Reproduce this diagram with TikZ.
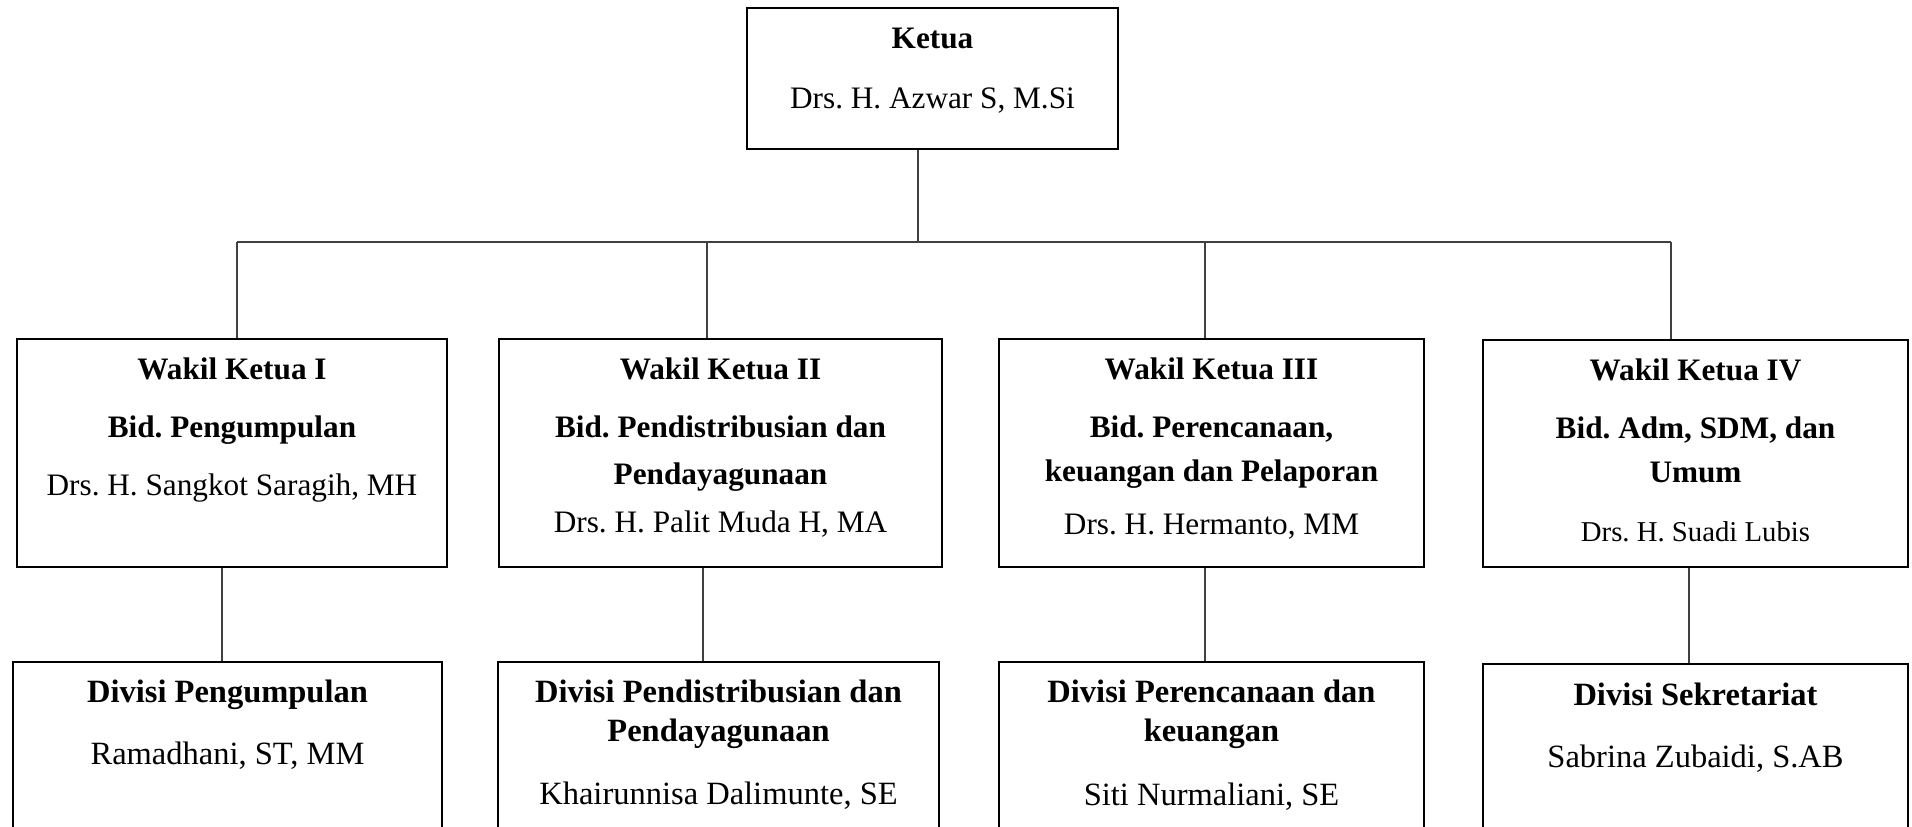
\documentclass[tikz,border=0pt]{standalone}
\usepackage{fontspec}
\setmainfont{Liberation Serif}

\tikzset{
    box/.style={draw, line width=0.7pt, inner sep=0pt},
    txt/.style={anchor=north, inner sep=0pt, align=center, font=\fontsize{12.5}{17.6}\selectfont\frenchspacing},
    divtxt/.style={anchor=north, inner sep=0pt, align=center, font=\fontsize{13}{15.6}\selectfont\frenchspacing},
    link/.style={draw=black!75, line width=0.45pt}
}

\begin{document}
\begin{tikzpicture}[x=1pt, y=1pt]
            \clip (0, 0) rectangle (764.8, -330.8);

            % Ketua
            \node [box, minimum width=148.4pt, minimum height=56.4pt] (ketua) at (373, -31.4) {};
            \node [txt] (ketuatxt) at ([yshift=-4.1pt]ketua.north) {\strut\textbf{Ketua}\\[6.4pt]Drs. H. Azwar S, M.Si};

            % Wakil Ketua
            \node [box, minimum width=172pt, minimum height=91.2pt] (w1) at (92.8, -181.2) {};
            \node [box, minimum width=177.2pt, minimum height=91.2pt] (w2) at (288.2, -181.2) {};
            \node [box, minimum width=170pt, minimum height=91.2pt] (w3) at (484.6, -181.2) {};
            \node [box, minimum width=170pt, minimum height=90.8pt] (w4) at (678.2, -181.4) {};

            \node [txt] (w1txt) at ([yshift=-4.1pt]w1.north) {\strut\textbf{Wakil Ketua I}\\[5.6pt]\textbf{Bid. Pengumpulan}\\[5.6pt]Drs. H. Sangkot Saragih, MH};
            \node [txt] (w2txt) at ([yshift=-4.1pt]w2.north) {\strut\textbf{Wakil Ketua II}\\[5.6pt]\textbf{Bid. Pendistribusian dan}\\[1.2pt]\textbf{Pendayagunaan}\\[1.4pt]Drs. H. Palit Muda H, MA};
            \node [txt] (w3txt) at ([yshift=-4.1pt]w3.north) {\strut\textbf{Wakil Ketua III}\\[5.6pt]\textbf{Bid. Perencanaan,}\\\textbf{keuangan dan Pelaporan}\\[3.6pt]Drs. H. Hermanto, MM};
            \node [txt] (w4txt) at ([yshift=-4.1pt]w4.north) {\strut\textbf{Wakil Ketua IV}\\[5.6pt]\textbf{Bid. Adm, SDM, dan}\\\textbf{Umum}\\[6pt]{\fontsize{11.5}{15}\selectfont Drs. H. Suadi Lubis}};

            % Divisi
            \node [box, minimum width=171.6pt, minimum height=80pt] (d1) at (91, -304.8) {};
            \node [box, minimum width=176.4pt, minimum height=80pt] (d2) at (287.4, -304.8) {};
            \node [box, minimum width=170pt, minimum height=80pt] (d3) at (484.6, -304.8) {};
            \node [box, minimum width=170pt, minimum height=80pt] (d4) at (678.2, -305.6) {};

            \node [divtxt] (d1txt) at ([yshift=-5.5pt]d1.north) {\strut\textbf{Divisi Pengumpulan}\\[9.2pt]Ramadhani, ST, MM};
            \node [divtxt] (d2txt) at ([yshift=-5.5pt]d2.north) {\strut\textbf{Divisi Pendistribusian dan}\\\textbf{Pendayagunaan}\\[9.6pt]Khairunnisa Dalimunte, SE};
            \node [divtxt] (d3txt) at ([yshift=-5.5pt]d3.north) {\strut\textbf{Divisi Perencanaan dan}\\\textbf{keuangan}\\[10pt]Siti Nurmaliani, SE};
            \node [divtxt] (d4txt) at ([yshift=-6pt]d4.north) {\strut\textbf{Divisi Sekretariat}\\[9pt]Sabrina Zubaidi, S.AB};

            % Lines
            \coordinate (bus) at (367.2, -96.8);
            \coordinate (t1) at (94.8, -96.8);
            \coordinate (t2) at (282.8, -96.8);
            \coordinate (t3) at (482, -96.8);
            \coordinate (t4) at (668.4, -96.8);
            \coordinate (b1) at (88.8, -245);
            \coordinate (b2) at (281.2, -245);
            \coordinate (b3) at (482, -245);
            \coordinate (b4) at (675.6, -245);

            \draw [link] (bus |- ketua.south) -- (bus);
            \draw [link] (t1) -- (t4);
            \draw [link] (t1) -- (t1 |- w1.north);
            \draw [link] (t2) -- (t2 |- w2.north);
            \draw [link] (t3) -- (t3 |- w3.north);
            \draw [link] (t4) -- (t4 |- w4.north);

            \draw [link] (b1 |- w1.south) -- (b1 |- d1.north);
            \draw [link] (b2 |- w2.south) -- (b2 |- d2.north);
            \draw [link] (b3 |- w3.south) -- (b3 |- d3.north);
            \draw [link] (b4 |- w4.south) -- (b4 |- d4.north);

        \end{tikzpicture}
\end{document}
